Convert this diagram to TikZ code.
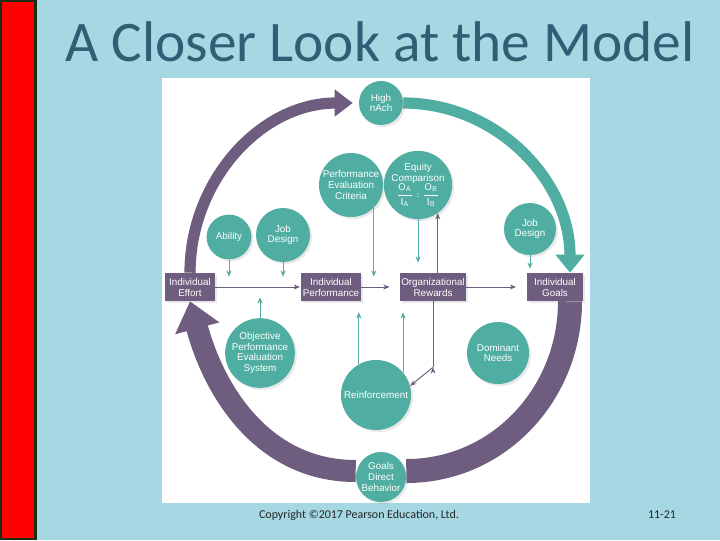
\documentclass[tikz,border=0pt]{standalone}
\usepackage{fontspec}
\setmainfont{Carlito}
\newfontfamily\labelfont{Liberation Sans}
\usepackage{tikz}
\usetikzlibrary{arrows.meta,shadows,backgrounds}
\definecolor{slideblue}{HTML}{A6D8E4}
\definecolor{titleteal}{HTML}{2F5F74}
\definecolor{plum}{HTML}{6E5D7E}
\definecolor{seagreen}{HTML}{4FAEA1}
\definecolor{barred}{HTML}{FF0000}
\definecolor{bardark}{HTML}{1E2A12}

\begin{document}
\begin{tikzpicture}[x=0.025cm, y=-0.025cm,
  disc/.style={circle, fill=seagreen, text=white, align=center, inner sep=0pt,
    font=\labelfont\fontsize{7}{7.6}\selectfont,
    drop shadow={opacity=.18, shadow xshift=.05cm, shadow yshift=-.05cm}},
  box/.style={rectangle, fill=plum, text=white, align=center, inner sep=1pt,
    minimum width=1.25cm, minimum height=0.7cm, font=\labelfont\fontsize{7}{7.8}\selectfont,
    drop shadow={opacity=.18, shadow xshift=.05cm, shadow yshift=-.05cm}},
  band/.style={draw=plum, line width=#1},
  thin/.style={draw=plum, line width=0.7pt, -{Stealth[length=4.5pt,width=3.5pt]}},
  feed/.style={thin, draw=seagreen}]
  \useasboundingbox (0,0) rectangle (720,540);

  % circles
  \node[disc, minimum size=1.1cm]  (nach)    at (381,103) {High\\nAch};
  \node[disc, minimum size=1.6cm]  (pec)     at (351,185) {Performance\\Evaluation\\Criteria};
  \node[disc, minimum size=1.55cm] (eq)      at (418,185) {Equity\\Comparison\\[-1pt]
    $\displaystyle\frac{\mathsf{O}_{\mathsf{A}}}{\mathsf{I}_{\mathsf{A}}}:\frac{\mathsf{O}_{\mathsf{B}}}{\mathsf{I}_{\mathsf{B}}}$};
  \node[disc, minimum size=1.12cm] (ability) at (229,237) {Ability};
  \node[disc, minimum size=1.35cm] (jdleft)  at (283,235) {Job\\Design};
  \node[disc, minimum size=1.3cm]  (jdright) at (530,229) {Job\\Design};
  \node[disc, minimum size=1.55cm] (opes)    at (260,353) {Objective\\Performance\\Evaluation\\System};
  \node[disc, minimum size=1.55cm] (needs)   at (498,353) {Dominant\\Needs};
  \node[disc, minimum size=1.75cm] (reinf)   at (376,395) {Reinforcement};
  \node[disc, minimum size=1.25cm] (gdb)     at (381,477) {Goals\\Direct\\Behavior};

  % boxes
  \node[box] (effort) at (190,287) {Individual\\Effort};
  \node[box] (perf)   at (331,287) {Individual\\Performance};
  \node[box] (rew)    at (433,287) {Organizational\\Rewards};
  \node[box, minimum width=1.38cm] (goals) at (555,287) {Individual\\Goals};

  \begin{scope}[on background layer]
    \fill[slideblue] (0,0) rectangle (720,540);
    \draw[fill=barred, draw=bardark, line width=1.6pt] (1,1) rectangle (35.5,539);
    \fill[white] (162,78) rectangle (590,503);
    % the big cycle
    \draw[band=0.28cm, -{Triangle[length=0.45cm,width=0.65cm]}]
      (effort.north) to[out=90,in=180] ([xshift=-0.15cm]nach.west);
    \draw[band=0.28cm, draw=seagreen, -{Triangle[length=0.45cm,width=0.7cm]}]
      (nach.east) to[out=0,in=90] ([xshift=0.375cm]goals.north);
    \draw[band=0.6cm] ([xshift=0.375cm]goals.south) to[out=-90,in=0] ([yshift=0.15cm]gdb.east);
    \draw[band=0.55cm, -{Triangle[length=0.7cm,width=1.1cm]}]
      ([yshift=0.15cm]gdb.west) to[out=180,in=-75] (effort.south);
  \end{scope}

  % thin arrows
  \path[thin]
    (effort) edge ([xshift=-0.03cm]perf.west)
    (perf)   edge ([xshift=-0.25cm]rew.west)
    (rew)    edge ([xshift=-0.275cm]goals.west)
    (rew.north -| eq.-55) edge (eq.-55)
    (rew.south) edge[-] ++(0,66)
    ([yshift=-1.65cm]rew.south) edge (reinf.15);
  \path[feed]
    (ability) edge ([yshift=-0.1cm]ability |- effort.north)
    (jdleft)  edge ([yshift=-0.1cm]jdleft |- effort.north)
    (opes)    edge ([yshift=0.1cm]opes |- effort.south)
    (pec.-45) edge ([yshift=-0.1cm]pec.-45 |- perf.north)
    (eq)      edge ([yshift=0.25cm]eq |- rew.north)
    (jdright) edge ([yshift=0.1cm]jdright |- goals.north)
    (reinf.119) edge ([yshift=-0.275cm]reinf.119 |- perf.south)
    (reinf.40)  edge ([yshift=-0.275cm]reinf.40 |- rew.south);

  % slide texts
  \node[font=\fontsize{40.8}{48}\selectfont, text=titleteal] (title) at (380,42) {A Closer Look at the Model};
  \node[font=\fontsize{8.5}{10}\selectfont, text=black!85] (copy) at (359,515) {Copyright ©2017 Pearson Education, Ltd.};
  \node[font=\fontsize{8.5}{10}\selectfont, text=black!85] (num) at (662,515) {11-21};
\end{tikzpicture}
\end{document}
